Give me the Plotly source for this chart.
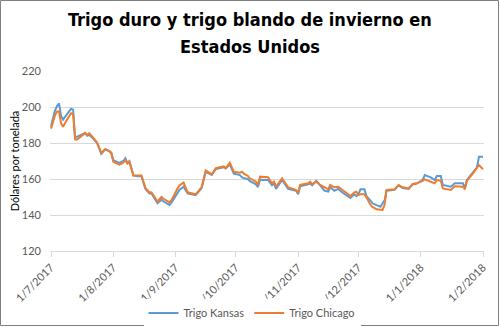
import plotly.graph_objects as go

# Daily wheat prices, US$ per tonne
fechas = [
    "2017-07-01", "2017-07-03", "2017-07-04", "2017-07-05", "2017-07-06", "2017-07-07",
    "2017-07-09", "2017-07-11", "2017-07-12", "2017-07-13", "2017-07-14", "2017-07-16",
    "2017-07-18", "2017-07-19", "2017-07-20", "2017-07-22", "2017-07-24", "2017-07-26",
    "2017-07-28", "2017-07-30", "2017-07-31", "2017-08-01", "2017-08-04", "2017-08-06",
    "2017-08-07", "2017-08-08", "2017-08-09", "2017-08-11", "2017-08-13", "2017-08-15",
    "2017-08-17", "2017-08-19", "2017-08-20", "2017-08-23", "2017-08-25", "2017-08-26",
    "2017-08-29", "2017-08-30", "2017-09-02", "2017-09-03", "2017-09-05", "2017-09-07",
    "2017-09-11", "2017-09-13", "2017-09-14", "2017-09-16", "2017-09-19", "2017-09-21",
    "2017-09-25", "2017-09-26", "2017-09-28", "2017-09-30", "2017-10-03", "2017-10-04",
    "2017-10-05", "2017-10-07", "2017-10-08", "2017-10-11", "2017-10-12", "2017-10-13",
    "2017-10-17", "2017-10-19", "2017-10-20", "2017-10-21", "2017-10-24", "2017-10-27",
    "2017-10-31", "2017-11-01", "2017-11-02", "2017-11-06", "2017-11-07", "2017-11-08",
    "2017-11-10", "2017-11-12", "2017-11-14", "2017-11-16", "2017-11-17", "2017-11-19",
    "2017-11-21", "2017-11-23", "2017-11-25", "2017-11-27", "2017-11-29", "2017-11-30",
    "2017-12-01", "2017-12-02", "2017-12-04", "2017-12-05", "2017-12-07", "2017-12-08",
    "2017-12-10", "2017-12-12", "2017-12-13", "2017-12-14", "2017-12-15", "2017-12-19",
    "2017-12-21", "2017-12-23", "2017-12-26", "2017-12-28", "2017-12-30", "2018-01-02",
    "2018-01-03", "2018-01-06", "2018-01-08", "2018-01-09", "2018-01-11", "2018-01-12",
    "2018-01-16", "2018-01-18", "2018-01-22", "2018-01-23", "2018-01-24", "2018-01-27",
    "2018-01-29", "2018-01-30", "2018-02-01",
]

trigo_kansas = [
    189.5, 198.0, 200.5, 202.0, 195.0, 193.0,
    196.0, 199.0, 198.5, 183.0, 183.5, 184.5,
    185.5, 184.0, 184.5, 182.5, 180.0, 174.0,
    176.5, 175.5, 174.5, 170.5, 169.0, 170.0,
    171.5, 169.0, 170.0, 162.0, 161.5, 161.5,
    154.5, 152.0, 152.0, 146.5, 148.5, 147.5,
    145.6, 147.0, 152.4, 154.0, 155.7, 152.0,
    151.0, 153.5, 155.0, 164.0, 162.3, 165.5,
    166.5, 166.0, 168.0, 163.0, 162.2, 161.0,
    160.4, 160.0, 158.8, 157.0, 155.5, 159.6,
    159.5, 156.5, 157.5, 154.5, 159.5, 154.5,
    153.5, 151.5, 156.0, 157.0, 157.5, 156.5,
    159.0, 156.5, 153.5, 153.0, 155.5, 153.5,
    154.5, 152.5, 151.0, 149.5, 151.5, 150.5,
    151.5, 154.3, 154.3, 150.5, 148.0, 146.5,
    145.5, 144.6, 146.5, 148.0, 153.5, 154.0,
    156.5, 155.0, 154.5, 157.0, 157.5, 159.5,
    162.2, 160.9, 159.4, 161.7, 161.7, 156.7,
    155.7, 157.6, 157.6, 155.0, 159.5, 163.5,
    166.5, 172.4, 172.4,
]

trigo_chicago = [
    188.0, 195.5, 197.5, 197.5, 191.0, 189.0,
    193.0, 196.5, 196.0, 182.0, 182.0, 183.5,
    185.5, 184.5, 185.5, 183.0, 180.0, 174.5,
    176.5, 175.5, 174.5, 169.5, 168.0, 169.0,
    170.5, 168.5, 169.5, 162.0, 162.0, 162.0,
    155.0, 152.5, 152.6, 147.5, 150.0, 149.0,
    147.0, 148.3, 154.8, 156.5, 158.0, 152.6,
    151.5, 154.0, 155.5, 164.8, 162.6, 166.0,
    167.0, 166.0, 169.0, 164.0, 163.5, 164.0,
    163.0, 161.7, 160.4, 158.5, 156.7, 161.3,
    161.0, 157.6, 158.5, 155.7, 160.4, 155.4,
    153.9, 152.4, 156.7, 157.6, 158.5, 157.2,
    158.5, 156.7, 155.4, 154.3, 156.7, 155.4,
    155.7, 153.9, 152.0, 150.5, 152.6, 153.0,
    151.1, 151.5, 151.5, 149.8, 145.6, 144.5,
    143.2, 142.8, 142.8, 145.6, 153.9, 154.3,
    156.7, 155.4, 154.8, 157.2, 157.6, 159.0,
    159.8, 158.5, 157.6, 159.4, 159.0, 154.8,
    153.9, 156.0, 155.7, 154.3, 159.0, 163.1,
    166.0, 167.8, 165.4,
]

tick_fechas = ["2017-07-01", "2017-08-01", "2017-09-01", "2017-10-01",
               "2017-11-01", "2017-12-01", "2018-01-01", "2018-02-01"]
tick_textos = ["1/7/2017", "1/8/2017", "1/9/2017", "1/10/2017",
               "1/11/2017", "1/12/2017", "1/1/2018", "1/2/2018"]

titulo = ["Trigo duro y trigo blando de invierno en", "Estados Unidos"]

AZUL = "#5B9BD5"
NARANJA = "#ED7D31"
GRIS_TEXTO = "#595959"
FUENTE = "Lato"
FUENTE_TITULO = "DejaVu Sans Condensed, Roboto"

fig = go.Figure()
fig.add_trace(go.Scatter(x=fechas, y=trigo_kansas, mode="lines", name="Trigo Kansas",
                         line=dict(color=AZUL, width=2)))
fig.add_trace(go.Scatter(x=fechas, y=trigo_chicago, mode="lines", name="Trigo Chicago",
                         line=dict(color=NARANJA, width=2)))

L, R, T, B = 50, 16, 71, 76
W, H = 500, 327
pw, ph = W - L - R, H - T - B


def px_x(p):
    return (p - L) / pw


def px_y(p):
    return (H - B - p) / ph


fig.update_layout(
    width=W, height=H,
    margin=dict(l=L, r=R, t=T, b=B, autoexpand=False),
    paper_bgcolor="white", plot_bgcolor="white",
    font=dict(family=FUENTE, size=11, color=GRIS_TEXTO),
    showlegend=True,
    legend=dict(orientation="h", x=px_x(252), xanchor="center", y=px_y(313), yanchor="middle",
                font=dict(family=FUENTE, size=11, color=GRIS_TEXTO),
                itemwidth=30, traceorder="normal"),
    xaxis=dict(
        type="date",
        range=["2017-06-30 12:00", "2018-02-01 12:00"],
        tickvals=tick_fechas, ticktext=tick_textos, tickangle=-45,
        showgrid=False, showline=True, linecolor="#d9d9d9", linewidth=1,
        ticks="outside", ticklen=5, tickcolor="#d9d9d9",
        tickfont=dict(family=FUENTE, size=11, color=GRIS_TEXTO),
        zeroline=False, automargin=False,
    ),
    yaxis=dict(
        range=[120, 220], dtick=20, tick0=120,
        showgrid=True, gridcolor="#d9d9d9", gridwidth=1,
        zeroline=False, showline=False, ticks="", ticklabelstandoff=8,
        tickfont=dict(family=FUENTE, size=11, color=GRIS_TEXTO),
        title=dict(text="Dólares por tonelada", standoff=0,
                   font=dict(family=FUENTE, size=11, color="black")),
        automargin=False,
    ),
)

# Two-line bold title
for linea, ypix in zip(titulo, [20, 46]):
    fig.add_annotation(text=linea, xref="paper", yref="paper",
                       x=px_x(250), y=px_y(ypix), xanchor="center", yanchor="middle",
                       showarrow=False,
                       font=dict(family=FUENTE_TITULO, size=18, color="black", weight="bold"))

# Outer frame around the whole chart
fig.add_shape(type="rect", xref="paper", yref="paper",
              x0=px_x(0.5), x1=px_x(W - 1.5),
              y0=px_y(H - 1.5), y1=px_y(0.5),
              line=dict(color="#7f7f7f", width=1), fillcolor="rgba(0,0,0,0)", layer="above")

fig.write_html("out.html")
